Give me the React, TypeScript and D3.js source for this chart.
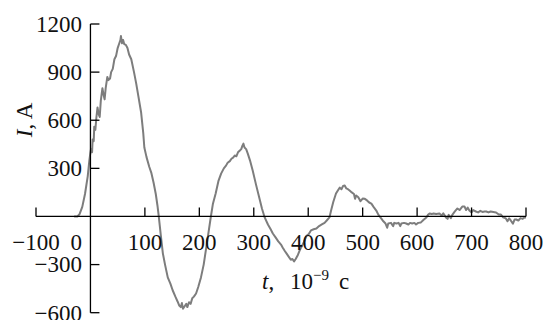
import React from "react";
import * as d3 from "d3";

const tValues: number[] = [-30,-24,-20,-15,-10,-5,-2,0,1,3,4,6,7,9,11,13,15,17,19,22,24,26,28,31,33,36,38,41,44,47,50,53,55,56,58,60,62,65,68,71,75,80,84,88,93,97,99,103,108,112,116,120,123,125.5,129,133,137,142,147,151,156,160,163,166,168,170,173,176,178,181,184,187,190,194,198,203,208,212,216,221,225,230,235,240,245,249,252,256,259,262,265,268,271,274,277,279,281,283,286,289,293,298,304,310,315,320,326,331,335,340,345,350,353,357,361,365,368,371,374,377,381,384,387,392,397,401,405,410,415,420,425,430,434,439,442,446,451,455,458,461,464,467,470,473,476,480,484,486,488,492,496,500,504,508,512,516,520,525,529,534,538,542,545,547,552,556,558,562,566,569,571,576,580,584,587,591,595,598,602,607,612,617,620,623,627,630,635,641,645,648,653,656,658,662,665,669,674,678,683,687,690,693,696,700,703,708,712,716,720,724,727,731,735,740,745,750,754,758,763,766,769,772,776,779,782,786,790,794,797,800];
const iValues: number[] = [0,0,15,60,140,250,350,400,420,400,480,470,560,540,620,680,640,620,720,800,760,730,800,870,850,860,900,920,980,1000,1050,1080,1100,1125,1080,1100,1075,1070,1050,1010,980,900,830,750,650,520,430,370,310,270,210,140,70,0,-110,-230,-300,-380,-420,-460,-500,-530,-555,-565,-540,-575,-560,-545,-565,-535,-545,-510,-500,-480,-440,-380,-300,-210,-120,-5,80,143,220,267,300,317,335,345,360,367,380,375,400,410,420,440,454,430,420,392,350,286,200,118,50,-6,-50,-80,-106,-130,-155,-175,-193,-215,-235,-255,-270,-265,-280,-265,-240,-215,-193,-160,-120,-110,-87,-80,-75,-60,-50,-40,-25,-6,37,90,143,165,180,170,190,193,175,170,162,150,140,110,131,120,95,112,110,100,87,80,60,37,10,-12,-30,-44,-70,-44,-40,-60,-40,-44,-40,-60,-44,-40,-44,-50,-40,-44,-40,-50,-40,-37,-20,-6,10,19,15,19,15,19,5,19,-6,-15,10,-10,12,30,50,40,62,62,40,55,37,25,40,31,25,35,28,31,31,25,31,28,25,12,12,-5,-12,-30,-12,-25,-45,-19,-19,-25,-10,-15,-6,-6];

const xTicks: number[] = [-100, 100, 200, 300, 400, 500, 600, 700, 800];
const xTickLabels: string[] = ["\u2212100", "100", "200", "300", "400", "500", "600", "700", "800"];
const yTicks: number[] = [1200, 900, 600, 300, -300, -600];
const yTickLabels: string[] = ["1200", "900", "600", "300", "\u2212300", "\u2212600"];

const FONT = "Liberation Serif, Times New Roman, DejaVu Serif, serif";

export default function App() {
  const W = 546, H = 320;
  const x = d3.scaleLinear().domain([-100, 800]).range([36, 526]);
  const y = d3.scaleLinear().domain([-600, 1200]).range([312.7, 24]);
  const data = tValues.map((t, i) => [t, iValues[i]] as [number, number]);
  const line = d3.line<[number, number]>().x(d => x(d[0])).y(d => y(d[1]));
  const fs = 23;
  const x0 = x(0), y0 = y(0);
  const ts: React.CSSProperties = { fontFamily: FONT, fontSize: fs, fill: "#111" };
  return (
    <svg width={W} height={H} style={{ position: "absolute", left: 0, top: 0, background: "#fff" }}>
      <path d={line(data) || ""} fill="none" stroke="#7d7d7d" strokeWidth={2} strokeLinejoin="round" />
      <line x1={x(-100)} x2={x(800)} y1={y0} y2={y0} stroke="#000" strokeWidth={1.3} />
      <line x1={x0} x2={x0} y1={y(1200)} y2={y(-600)} stroke="#000" strokeWidth={1.3} />
      {xTicks.map((t, i) => (
        <g key={"xt" + i}>
          <line x1={x(t)} x2={x(t)} y1={y0} y2={y0 - 9} stroke="#000" strokeWidth={1.3} />
          <text x={x(t)} y={250} textAnchor="middle" style={ts}>
            {xTickLabels[i]}
          </text>
        </g>
      ))}
      <text x={82} y={250} textAnchor="end" style={ts}>0</text>
      {yTicks.map((v, i) => (
        <g key={"yt" + i}>
          <line x1={x0} x2={x0 + 9} y1={y(v)} y2={y(v)} stroke="#000" strokeWidth={1.3} />
          <text x={82} y={y(v)} dy="0.34em" textAnchor="end" style={ts}>
            {yTickLabels[i]}
          </text>
        </g>
      ))}
      <text y={289} style={ts}>
        <tspan x={262} fontStyle="italic">t</tspan>
        <tspan>,</tspan>
        <tspan x={290}>10</tspan>
        <tspan dy={-9} style={{ fontSize: 15 }}>{"\u22129"}</tspan>
        <tspan dy={9} x={339}>c</tspan>
      </text>
      <text transform="translate(32,120) rotate(-90)" textAnchor="middle" style={ts}>
        <tspan fontStyle="italic">I</tspan>
        <tspan>, A</tspan>
      </text>
    </svg>
  );
}
